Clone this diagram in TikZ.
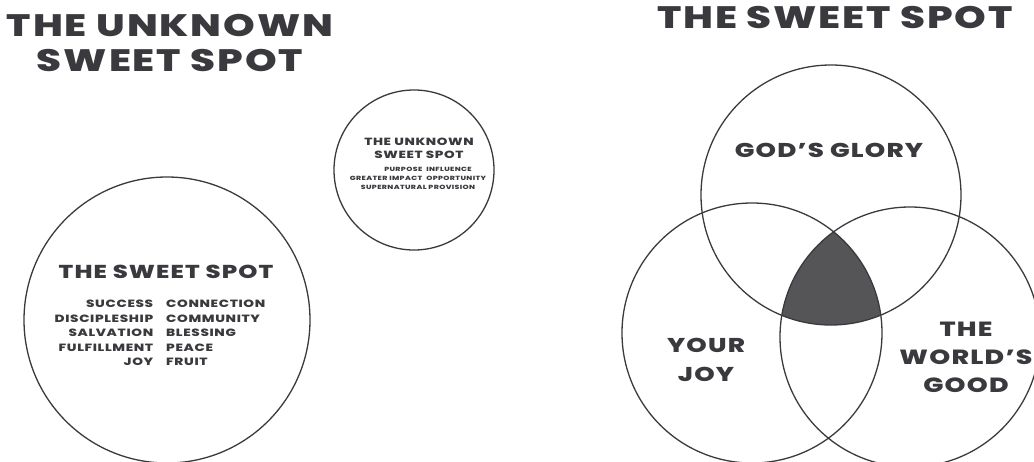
\documentclass[tikz,border=0pt]{standalone}
\usepackage{fontspec}
\setmainfont{Poppins}[BoldFont={Poppins ExtraBold},FakeStretch=1.3,LetterSpace=6]
\usepackage{tikz}
\usetikzlibrary{calc}
\definecolor{ink}{HTML}{3A3A3E}
\definecolor{spot}{HTML}{555558}
\tikzset{ring/.style={line width=1.3pt,ink},
         head/.style={text=ink,align=center,inner sep=0pt,font=\bfseries},
         words/.style={text=ink,inner sep=0pt,font=\bfseries}}

\begin{document}
\begin{tikzpicture}[x=1pt,y=-1pt]
  \useasboundingbox (0,0) rectangle (1034,461);
  % left side
  \node[head,font=\fontsize{31}{35}\selectfont\bfseries] (unkTitle) at (170,43)
    {THE UNKNOWN\\SWEET SPOT};
  \coordinate (bigC) at (167,320);
  \coordinate (smallC) at (414,170);
  \draw[ring] (bigC) circle (143);
  \draw[ring] (smallC) circle (80);
  \node[head,font=\fontsize{18.7}{22}\selectfont\bfseries] (sweetIn) at (166,272)
    {THE SWEET SPOT};
  \node[words,font=\fontsize{10.5}{14.5}\selectfont\bfseries] (sweetList) at (160,334)
    {\begin{tabular}{@{}r@{\hspace{13pt}}l@{}}
      SUCCESS & CONNECTION\\
      DISCIPLESHIP & COMMUNITY\\
      SALVATION & BLESSING\\
      FULFILLMENT & PEACE\\
      JOY & FRUIT
     \end{tabular}};
  \node[head,font=\fontsize{10.4}{13}\selectfont\bfseries] (unkIn) at (419,148)
    {THE UNKNOWN\\SWEET SPOT};
  \node[words,font=\fontsize{6}{9}\selectfont\bfseries] (unkList) at (418,179)
    {\begin{tabular}{@{}r@{\hspace{4pt}}l@{}}
      PURPOSE & INFLUENCE\\
      GREATER IMPACT & OPPORTUNITY\\
      \multicolumn{2}{c}{SUPERNATURAL PROVISION}
     \end{tabular}};
  % right side
  \node[head,font=\fontsize{31}{34}\selectfont\bfseries] (sweetTitle) at (835,18)
    {THE SWEET SPOT};
  \coordinate (glory) at (831,195);
  \coordinate (joy) at (752,333);
  \coordinate (good) at (910,337);
  \begin{scope}
    \clip (glory) circle (130);
    \clip (joy) circle (130);
    \fill[spot] (good) circle (130);
  \end{scope}
  \foreach \c in {glory,joy,good}
    \draw[ring] (\c) circle (130);
  \node[head,font=\fontsize{20}{23}\selectfont\bfseries] (gloryText) at (829,150)
    {GOD'S GLORY};
  \node[head,font=\fontsize{20}{29}\selectfont\bfseries] (joyText) at (706,360)
    {YOUR\\JOY};
  \node[head,font=\fontsize{20.5}{28}\selectfont\bfseries] (goodText) at (966,357)
    {THE\\WORLD'S\\GOOD};
\end{tikzpicture}
\end{document}
